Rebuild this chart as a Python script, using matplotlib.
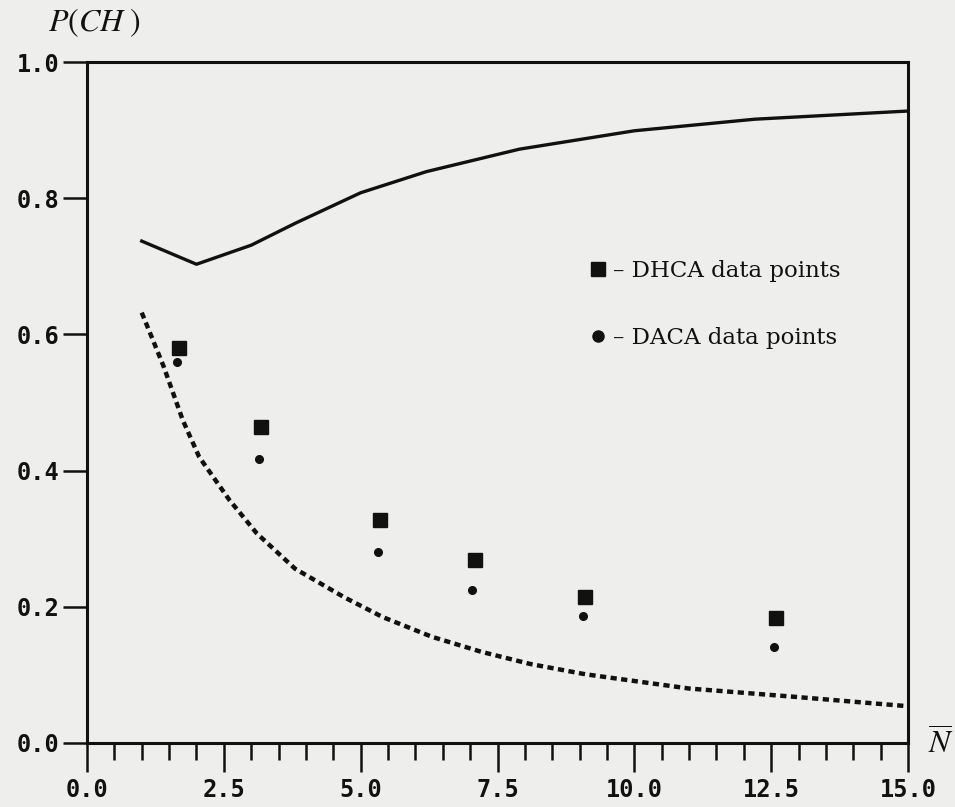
import matplotlib.pyplot as plt
from matplotlib.lines import Line2D
from matplotlib.ticker import MultipleLocator

plt.rcParams['mathtext.fontset'] = 'stix'

# theoretical curves
solid_n = [1.0, 2.0, 3.0, 3.8, 5.0, 6.2, 7.9, 10.0, 12.2, 15.0]
solid_p = [0.737, 0.703, 0.731, 0.763, 0.808, 0.839, 0.872, 0.899, 0.916, 0.928]

dotted_n = [1.0, 1.4, 1.75, 2.05, 2.6, 3.1, 3.8, 4.7, 5.4, 6.3, 7.2, 8.1, 9.1,
            11.0, 12.9, 15.0]
dotted_p = [0.632, 0.553, 0.474, 0.420, 0.357, 0.308, 0.256, 0.214, 0.185, 0.156,
            0.134, 0.116, 0.101, 0.080, 0.068, 0.054]

# measured points
dhca_n = [1.69, 3.18, 5.35, 7.08, 9.09, 12.58]
dhca_p = [0.580, 0.464, 0.327, 0.269, 0.214, 0.183]
daca_n = [1.64, 3.15, 5.31, 7.03, 9.06, 12.55]
daca_p = [0.559, 0.417, 0.281, 0.225, 0.187, 0.141]

x_ticks = [0.0, 2.5, 5.0, 7.5, 10.0, 12.5, 15.0]
y_ticks = [0.0, 0.2, 0.4, 0.6, 0.8, 1.0]

ink = '#111111'
paper = '#eeeeec'

fig = plt.figure(figsize=(9.55, 8.07), dpi=100, facecolor=paper)
ax = fig.add_axes([87 / 955, 64 / 807, 821 / 955, 681 / 807])
ax.set_facecolor(paper)

ax.plot(solid_n, solid_p, color=ink, lw=2.4, solid_joinstyle='round')
ax.plot(dotted_n, dotted_p, color=ink, lw=3.2, linestyle=(0, (1.4, 1.0)),
        dash_capstyle='butt')
ax.plot(dhca_n, dhca_p, linestyle='none', marker='s', ms=10, color=ink)
ax.plot(daca_n, daca_p, linestyle='none', marker='o', ms=5.5, color=ink)

ax.set_xlim(0, 15)
ax.set_ylim(0, 1)
ax.set_xticks(x_ticks)
ax.set_xticklabels([f'{v:.1f}' for v in x_ticks])
ax.set_yticks(y_ticks)
ax.set_yticklabels([f'{v:.1f}' for v in y_ticks])
ax.xaxis.set_minor_locator(MultipleLocator(0.5))

for s in ax.spines.values():
    s.set_linewidth(2.2)
    s.set_color(ink)

tick_font = dict(family='DejaVu Sans Mono', weight='bold', size=17)
ax.tick_params(axis='x', which='major', direction='out', length=21, width=1.8,
               pad=4, colors=ink)
ax.tick_params(axis='x', which='minor', direction='out', length=12, width=1.8,
               colors=ink)
ax.tick_params(axis='y', which='major', direction='out', length=17, width=1.8,
               pad=3, colors=ink)
for lab in ax.get_xticklabels() + ax.get_yticklabels():
    lab.set_fontproperties(tick_font)
    lab.set_color(ink)

handles = [
    Line2D([], [], linestyle='none', marker='s', ms=10, color=ink),
    Line2D([], [], linestyle='none', marker='o', ms=8, color=ink),
]
leg = ax.legend(handles, ['\u2013 DHCA data points', '\u2013 DACA data points'],
                loc='upper left', bbox_to_anchor=(0.602, 0.722), frameon=False,
                handlelength=0.7, handletextpad=0.3, labelspacing=1.95,
                borderaxespad=0,
                prop=dict(family='DejaVu Serif', size=16.5))
for t in leg.get_texts():
    t.set_color(ink)

fig.text(48 / 955, 1 - 23 / 807, r'$P(CH\;)$', fontsize=23, color=ink,
         ha='left', va='center')
fig.text(941 / 955, 1 - 744 / 807, r'$\overline{N}$', fontsize=23, color=ink,
         ha='center', va='center')

fig.savefig('out.png', dpi=100, facecolor=paper)
